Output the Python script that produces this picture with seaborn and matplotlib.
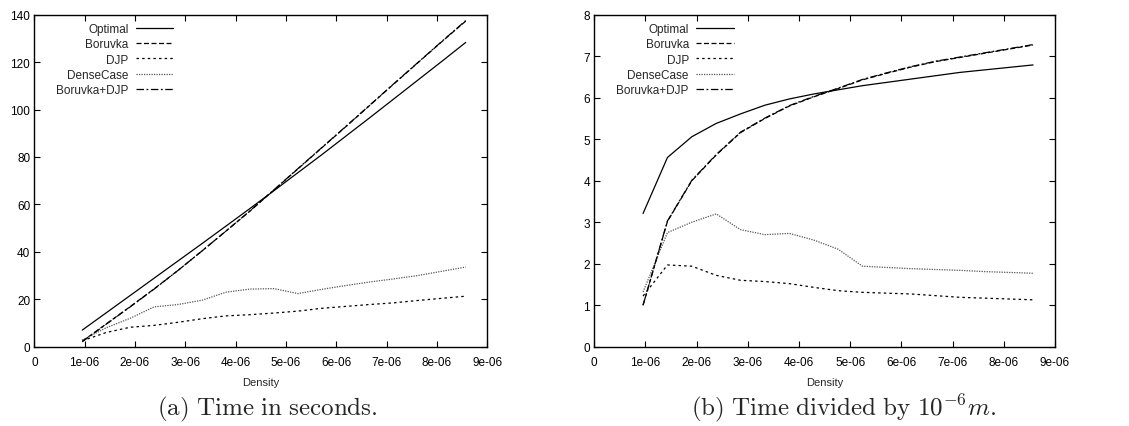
import pandas as pd
import seaborn as sns
from matplotlib import pyplot as plt

# densities (x axis) shared by both panels
density = [0.952e-6, 1.429e-6, 1.905e-6, 2.381e-6, 2.857e-6, 3.333e-6, 3.810e-6, 4.286e-6, 4.762e-6,
           5.238e-6, 5.714e-6, 6.190e-6, 6.667e-6, 7.143e-6, 7.619e-6, 8.095e-6, 8.571e-6]

# (a) time in seconds
sec_optimal = [7.0, 14.3, 21.6, 28.9, 36.2, 43.5, 50.9, 58.3, 65.8, 73.4, 81.0, 88.8, 96.6, 104.5, 112.4, 120.3, 128.3]
sec_boruvka = [2.3, 9.6, 16.9, 24.4, 32.2, 40.4, 48.8, 57.2, 66.1, 75.0, 83.9, 92.8, 101.8, 110.8, 119.7, 128.6, 137.3]
sec_djp = [2.5, 6.0, 8.2, 9.0, 10.3, 11.8, 13.0, 13.5, 14.2, 15.0, 16.2, 17.0, 17.8, 18.5, 19.5, 20.4, 21.3]
sec_dense = [2.8, 8.0, 12.0, 16.8, 17.8, 19.6, 23.0, 24.3, 24.5, 22.4, 24.2, 25.8, 27.3, 28.6, 30.0, 31.8, 33.6]
sec_both = [2.1, 9.5, 16.8, 24.3, 32.2, 40.4, 48.8, 57.3, 66.2, 75.1, 84.0, 92.9, 101.9, 110.9, 119.8, 128.7, 137.5]

# (b) time divided by 1e-6 m
rel_optimal = [3.21, 4.56, 5.06, 5.38, 5.61, 5.82, 5.97, 6.09, 6.19, 6.29, 6.37, 6.45, 6.53, 6.61, 6.67, 6.73, 6.79]
rel_boruvka = [1.0, 3.02, 4.0, 4.62, 5.16, 5.50, 5.80, 6.02, 6.22, 6.43, 6.59, 6.74, 6.87, 6.97, 7.07, 7.17, 7.27]
rel_djp = [1.22, 1.97, 1.94, 1.72, 1.60, 1.57, 1.52, 1.43, 1.35, 1.31, 1.29, 1.27, 1.23, 1.19, 1.17, 1.15, 1.13]
rel_dense = [1.32, 2.75, 3.0, 3.2, 2.82, 2.70, 2.73, 2.57, 2.35, 1.94, 1.91, 1.88, 1.86, 1.84, 1.81, 1.79, 1.77]
rel_both = [1.0, 3.03, 4.01, 4.63, 5.17, 5.51, 5.81, 6.03, 6.23, 6.44, 6.60, 6.75, 6.88, 6.98, 7.08, 7.18, 7.28]

names = ["Optimal", "Boruvka", "DJP", "DenseCase", "Boruvka+DJP"]
dashes = {"Optimal": "-", "Boruvka": (0, (4, 2)), "DJP": (0, (2, 2.5)),
          "DenseCase": (0, (1, 1)), "Boruvka+DJP": (0, (6, 2, 1.5, 2))}
colors = {"Optimal": "black", "Boruvka": "black", "DJP": "black", "DenseCase": "#555555", "Boruvka+DJP": "black"}

xticks = [0, 1e-6, 2e-6, 3e-6, 4e-6, 5e-6, 6e-6, 7e-6, 8e-6, 9e-6]
xtick_labels = ["0", "1e-06", "2e-06", "3e-06", "4e-06", "5e-06", "6e-06", "7e-06", "8e-06", "9e-06"]
yticks_a = [0, 20, 40, 60, 80, 100, 120, 140]
yticks_b = [0, 1, 2, 3, 4, 5, 6, 7, 8]

sns.set_theme(style="ticks")
plt.rcParams["font.family"] = ["Liberation Sans", "DejaVu Sans"]
plt.rcParams["mathtext.fontset"] = "cm"
plt.rcParams.update({"xtick.direction": "in", "ytick.direction": "in",
                     "xtick.top": True, "ytick.right": True,
                     "xtick.major.size": 4, "ytick.major.size": 4,
                     "xtick.major.width": 0.8, "ytick.major.width": 0.8,
                     "axes.linewidth": 1.0, "axes.edgecolor": "black"})

fig = plt.figure(figsize=(11.29, 4.27), dpi=100)
ax_a = fig.add_axes([0.0304, 0.1857, 0.4012, 0.7775])
ax_b = fig.add_axes([0.5264, 0.1857, 0.4081, 0.7775])

panels = [
    (ax_a, [sec_optimal, sec_boruvka, sec_djp, sec_dense, sec_both], yticks_a),
    (ax_b, [rel_optimal, rel_boruvka, rel_djp, rel_dense, rel_both], yticks_b),
]

for ax, series, yticks in panels:
    for name, values in zip(names, series):
        df = pd.DataFrame({"Density": density, "value": values})
        sns.lineplot(data=df, x="Density", y="value", ax=ax, label=name,
                     color=colors[name], linestyle=dashes[name], linewidth=0.9)
    ax.set_xlim(0, 9e-6)
    ax.set_ylim(yticks[0], yticks[-1])
    ax.set_xticks(xticks)
    ax.set_xticklabels(xtick_labels)
    ax.set_yticks(yticks)
    ax.set_yticklabels([str(t) for t in yticks])
    ax.tick_params(labelsize=8.5, colors="black")
    ax.tick_params(axis="x", pad=7)
    ax.tick_params(axis="y", pad=3)
    ax.set_xlabel("Density", fontsize=8, labelpad=6)
    ax.set_ylabel("")
    ax.legend(loc="upper left", frameon=False, markerfirst=False, fontsize=8.5,
              handlelength=3.2, handletextpad=0.6, labelspacing=0.28,
              borderaxespad=0.3, bbox_to_anchor=(0.03, 1.0))
    leg = ax.get_legend()
    leg._legend_box.align = "right"

fig.text(0.237, 0.028, r"$\mathrm{(a)\ Time\ in\ seconds.}$", ha="center", fontsize=18)
fig.text(0.747, 0.028, r"$\mathrm{(b)\ Time\ divided\ by\ }10^{-6}m.$", ha="center", fontsize=18)

plt.savefig("out.png", dpi=100)
plt.close()
